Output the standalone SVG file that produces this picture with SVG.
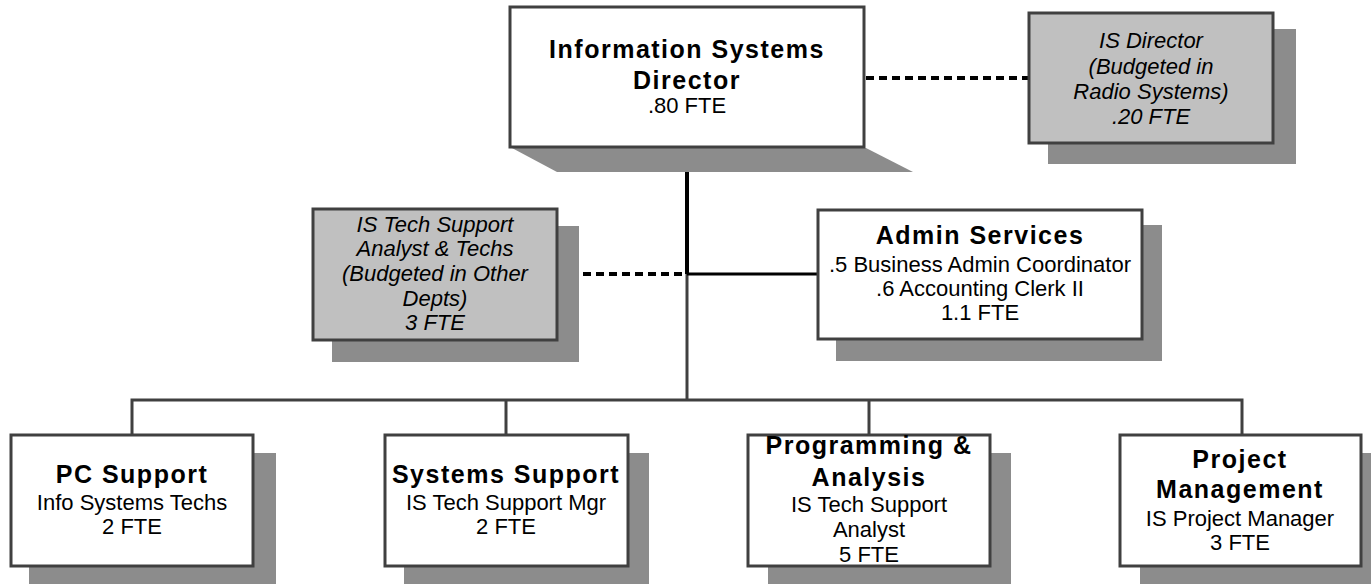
<svg xmlns="http://www.w3.org/2000/svg" width="1371" height="584" viewBox="0 0 1371 584">
<style>
.box{fill:#ffffff;stroke:#404040;stroke-width:3}
.gbox{fill:#c0c0c0;stroke:#404040;stroke-width:3}
.sh{fill:#8c8c8c}
.b{font-family:"Liberation Sans",Arial,sans-serif;font-weight:bold;font-size:25px;letter-spacing:1.5px;text-anchor:middle;fill:#000}
.r{font-family:"Liberation Sans",Arial,sans-serif;font-size:22px;text-anchor:middle;fill:#000}
.i{font-family:"Liberation Sans",Arial,sans-serif;font-style:italic;font-size:22px;text-anchor:middle;fill:#000}
.ln{stroke:#404040;stroke-width:3;fill:none}
.blk{stroke:#000;stroke-width:3;fill:none}
.dash{stroke:#000;stroke-width:4;stroke-dasharray:8 5;fill:none}
</style>
<rect width="1371" height="584" fill="#ffffff"/>
<g id="connectors">
<line class="ln" x1="687" y1="147" x2="687" y2="400"/>
<line x1="687" y1="172" x2="687" y2="274" stroke="#000" stroke-width="4"/>
<polyline class="ln" points="132,435 132,400 1242,400 1242,435"/>
<line class="ln" x1="506" y1="400" x2="506" y2="435"/>
<line class="ln" x1="869" y1="400" x2="869" y2="435"/>
<line class="blk" x1="687" y1="274" x2="818" y2="274"/>
<line class="dash" x1="866" y1="78" x2="1029" y2="78"/>
<line class="dash" x1="557" y1="274" x2="687" y2="274"/>
</g>
<g id="director">
<polygon class="sh" points="512,148 866,148 913,172 557,172"/>
<rect class="box" x="510" y="7" width="354" height="140"/>
<text class="b" x="687" y="58">Information Systems</text>
<text class="b" x="687" y="89">Director</text>
<text class="r" x="687" y="113">.80 FTE</text>
</g>
<g id="is-director-radio">
<rect class="sh" x="1048" y="29" width="248" height="135"/>
<rect class="gbox" x="1029" y="13" width="244" height="130"/>
<text class="i" x="1151" y="48">IS Director</text>
<text class="i" x="1151" y="74">(Budgeted in</text>
<text class="i" x="1151" y="99">Radio Systems)</text>
<text class="i" x="1151" y="124">.20 FTE</text>
</g>
<g id="is-tech-other">
<rect class="sh" x="332" y="226" width="247" height="136"/>
<rect class="gbox" x="313" y="209" width="244" height="131"/>
<text class="i" x="435" y="232">IS Tech Support</text>
<text class="i" x="435" y="256">Analyst &amp; Techs</text>
<text class="i" x="435" y="281">(Budgeted in Other</text>
<text class="i" x="435" y="306">Depts)</text>
<text class="i" x="435" y="330">3 FTE</text>
</g>
<g id="admin">
<rect class="sh" x="836" y="225" width="326" height="136"/>
<rect class="box" x="818" y="210" width="324" height="129"/>
<text class="b" x="980" y="244">Admin Services</text>
<text class="r" x="980" y="272">.5 Business Admin Coordinator</text>
<text class="r" x="980" y="296">.6 Accounting Clerk II</text>
<text class="r" x="980" y="320">1.1 FTE</text>
</g>
<g id="pc-support">
<rect class="sh" x="29" y="453" width="247" height="140"/>
<rect class="box" x="11" y="435" width="242" height="131"/>
<text class="b" x="132" y="483">PC Support</text>
<text class="r" x="132" y="510">Info Systems Techs</text>
<text class="r" x="132" y="534">2 FTE</text>
</g>
<g id="systems-support">
<rect class="sh" x="404" y="453" width="245" height="140"/>
<rect class="box" x="385" y="435" width="243" height="131"/>
<text class="b" x="506" y="483">Systems Support</text>
<text class="r" x="506" y="510">IS Tech Support Mgr</text>
<text class="r" x="506" y="534">2 FTE</text>
</g>
<g id="programming">
<rect class="sh" x="768" y="453" width="243" height="140"/>
<rect class="box" x="748" y="435" width="242" height="131"/>
<text class="b" x="869" y="454">Programming &amp;</text>
<text class="b" x="869" y="486">Analysis</text>
<text class="r" x="869" y="512">IS Tech Support</text>
<text class="r" x="869" y="537">Analyst</text>
<text class="r" x="869" y="562">5 FTE</text>
</g>
<g id="project-mgmt">
<rect class="sh" x="1140" y="453" width="245" height="140"/>
<rect class="box" x="1120" y="435" width="241" height="131"/>
<text class="b" x="1240" y="468">Project</text>
<text class="b" x="1240" y="498">Management</text>
<text class="r" x="1240" y="526">IS Project Manager</text>
<text class="r" x="1240" y="550">3 FTE</text>
</g>
</svg>
